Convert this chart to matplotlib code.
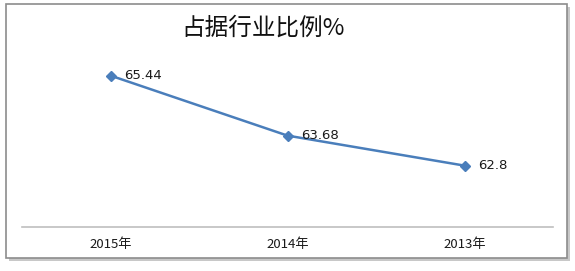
import matplotlib
matplotlib.use("Agg")
import matplotlib.pyplot as plt
from matplotlib.patches import Rectangle

plt.rcParams['font.family'] = ['Noto Sans CJK SC', 'DejaVu Sans']

years = ['2015年', '2014年', '2013年']
share = [65.44, 63.68, 62.8]
title = '占据行业比例%'

fig = plt.figure(figsize=(5.75, 2.71), dpi=100)
# chart frame with a soft shadow
fig.patches.append(Rectangle((9 / 575, 1 - 261 / 271), 561 / 575, 254 / 271,
                             transform=fig.transFigure, facecolor='#c8c8c8',
                             edgecolor='none', zorder=0))
fig.patches.append(Rectangle((6 / 575, 1 - 258 / 271), 561 / 575, 254 / 271,
                             transform=fig.transFigure, facecolor='white',
                             edgecolor='#8c8c8c', linewidth=1.2, zorder=1))

ax = fig.add_axes([22 / 575, 44 / 271, 531 / 575, 170.5 / 271])
ax.set_zorder(3)
ax.set_facecolor('none')
x = range(len(years))
ax.plot(x, share, color='#4a7ebb', linewidth=1.8, marker='D', markersize=5.5,
        markerfacecolor='#4a7ebb', markeredgecolor='#4a7ebb', clip_on=False)
for i, v in enumerate(share):
    ax.annotate(f'{v:g}', (i, v), xytext=(10, 0), textcoords='offset points',
                va='center', ha='left', fontsize=9.5, color='#1a1a1a',
                family=['DejaVu Sans'])

ax.set_xlim(-0.5, len(years) - 0.5)
ax.set_ylim(61, 66)
ax.set_xticks(list(x))
ax.set_xticklabels(years, fontsize=9.5, color='#1a1a1a')
ax.tick_params(axis='x', length=0, pad=8)
ax.set_yticks([])
for s in ['top', 'left', 'right']:
    ax.spines[s].set_visible(False)
ax.spines['bottom'].set_color('#bfbfbf')
ax.spines['bottom'].set_linewidth(1.2)

fig.text(263 / 575, 1 - 28 / 271, title, ha='center', va='center',
         fontsize=17, color='#111111', zorder=4)

fig.savefig('out.png', dpi=100)
